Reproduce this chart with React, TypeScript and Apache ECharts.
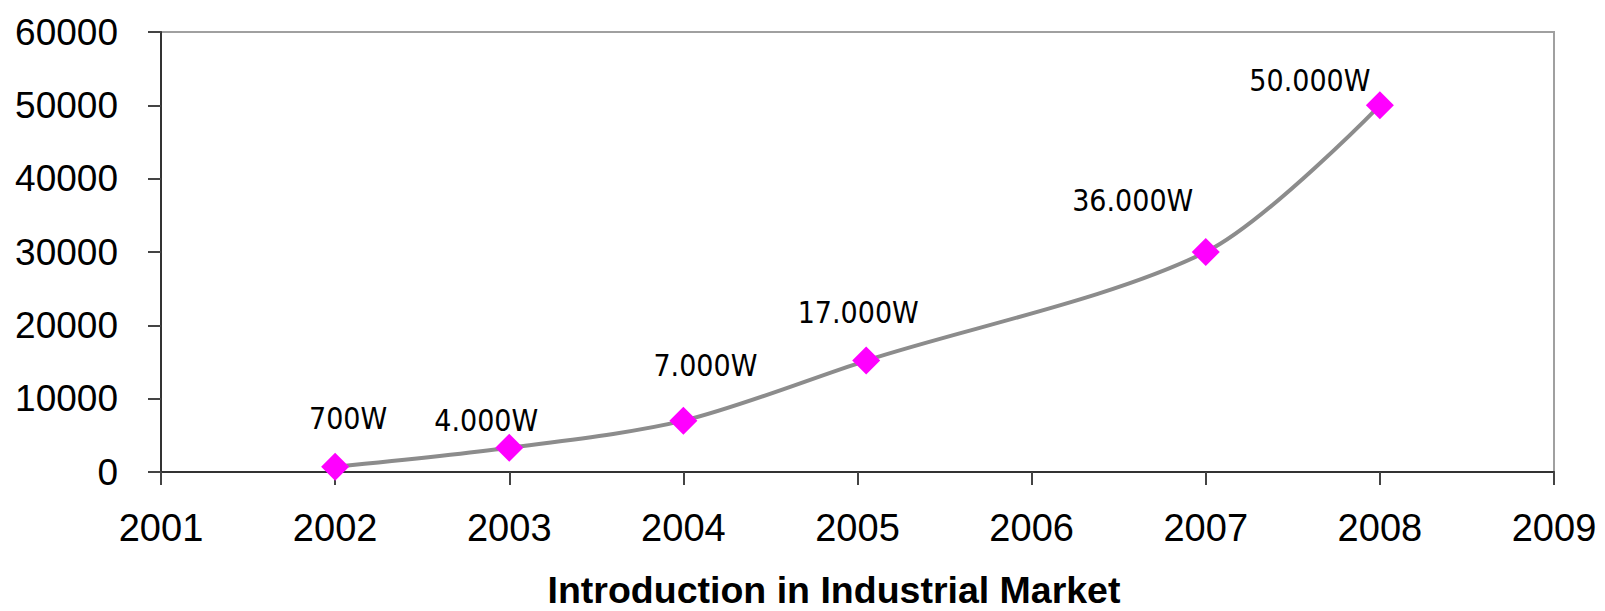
import React, { useEffect, useRef } from "react";
import * as echarts from "echarts";

const years = [2002, 2003, 2004, 2005.05, 2007, 2008];
const values = [700, 3300, 7000, 15200, 30000, 50000];
const pointLabels = ["700W", "4.000W", "7.000W", "17.000W", "36.000W", "50.000W"];
const labelOffsets = [
  [13, -48],
  [-23, -27],
  [22, -55],
  [-8, -48],
  [-73, -52],
  [-70, -25],
];
const xTicks = [2001, 2002, 2003, 2004, 2005, 2006, 2007, 2008, 2009];
const yTicks = [0, 10000, 20000, 30000, 40000, 50000, 60000];
const title = "Introduction in Industrial Market";

export default function App() {
  const ref = useRef<HTMLDivElement>(null);
  useEffect(() => {
    if (!ref.current) return;
    const chart = echarts.init(ref.current, null, { renderer: "svg" });
    const data = years.map((x, i) => ({
      value: [x, values[i]],
      label: {
        show: true,
        formatter: pointLabels[i],
        position: "inside",
        offset: labelOffsets[i],
      },
    }));
    chart.setOption({
      animation: false,
      backgroundColor: "#ffffff",
      title: {
        text: title,
        left: 834,
        top: 571,
        textAlign: "center",
        padding: 0,
        textStyle: {
          fontFamily: "Liberation Sans Narrow, Liberation Sans, Arial",
          fontWeight: "bold",
          fontSize: 37.5,
          lineHeight: 38,
          color: "#000",
        },
      },
      grid: {
        left: 161,
        right: 51,
        top: 32,
        bottom: 139,
        show: true,
        borderColor: "#a0a0a0",
        borderWidth: 2,
        backgroundColor: "#fff",
      },
      xAxis: {
        type: "value",
        min: xTicks[0],
        max: xTicks[xTicks.length - 1],
        interval: 1,
        axisLine: { show: true, lineStyle: { color: "#333", width: 2 } },
        axisTick: { show: true, length: 13, lineStyle: { color: "#444", width: 2 } },
        splitLine: { show: false },
        axisLabel: {
          margin: 37,
          fontFamily: "Liberation Sans, Arial",
          fontSize: 38,
          color: "#000",
          formatter: (v: number) => String(v),
        },
      },
      yAxis: {
        type: "value",
        min: yTicks[0],
        max: yTicks[yTicks.length - 1],
        interval: 10000,
        axisLine: { show: true, lineStyle: { color: "#333", width: 2 } },
        axisTick: { show: true, length: 13, lineStyle: { color: "#444", width: 2 } },
        splitLine: { show: false },
        axisLabel: {
          margin: 43,
          fontFamily: "Liberation Sans, Arial",
          fontSize: 37,
          color: "#000",
          padding: [0, 0, 8, 0],
          formatter: (v: number) => String(v),
        },
      },
      series: [
        {
          type: "line",
          data,
          smooth: 0.3,
          symbol: "diamond",
          symbolSize: 28,
          itemStyle: { color: "#ff00ff" },
          lineStyle: { color: "#8c8c8c", width: 4 },
          label: {
            color: "#000",
            fontFamily: "DejaVu Sans Condensed, DejaVu Sans, Verdana",
            fontSize: 30,
          },
          z: 3,
        },
      ],
    });
    return () => chart.dispose();
  }, []);
  return (
    <div
      ref={ref}
      style={{ position: "fixed", left: 0, top: 0, width: 1605, height: 611 }}
    />
  );
}
